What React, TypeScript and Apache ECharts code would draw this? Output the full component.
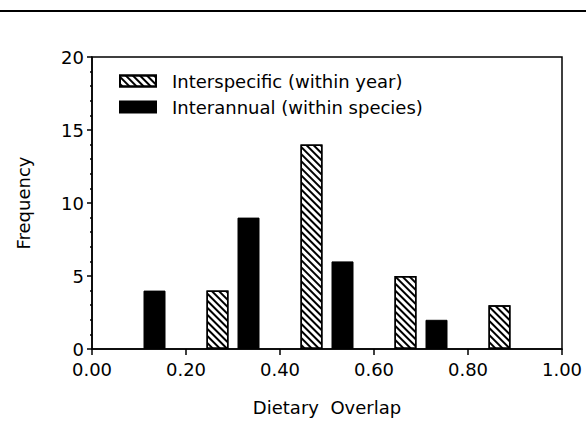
import React, { useEffect, useRef } from "react";
import * as echarts from "echarts";

const seriesNames = ["Interspecific (within year)", "Interannual (within species)"];
const interspecific: [number, number][] = [
  [0.267, 4],
  [0.467, 14],
  [0.667, 5],
  [0.867, 3],
];
const interannual: [number, number][] = [
  [0.133, 4],
  [0.333, 9],
  [0.533, 6],
  [0.733, 2],
];
const xTicks = [0, 0.2, 0.4, 0.6, 0.8, 1.0];
const yTicks = [0, 5, 10, 15, 20];

export default function App() {
  const ref = useRef<HTMLDivElement>(null);
  useEffect(() => {
    if (!ref.current) return;
    const chart = echarts.init(ref.current, null, { renderer: "svg" });
    const font = "DejaVu Sans";
    const fs = 18;
    chart.setOption({
      animation: false,
      backgroundColor: "#fff",
      textStyle: { fontFamily: font, color: "#000" },
      grid: {
        left: 92,
        right: 24,
        top: 57,
        bottom: 75,
        show: true,
        borderColor: "#000",
        borderWidth: 1.5,
      },
      legend: {
        orient: "vertical",
        left: 114,
        top: 67,
        itemWidth: 36,
        itemHeight: 11,
        itemGap: 8,
        icon: "rect",
        textStyle: { fontFamily: font, fontSize: fs, color: "#000", padding: [0, 0, 0, 11] },
        data: seriesNames,
      },
      xAxis: {
        type: "value",
        min: xTicks[0],
        max: xTicks[xTicks.length - 1],
        interval: 0.2,
        name: "Dietary  Overlap",
        nameLocation: "middle",
        nameGap: 49,
        nameTextStyle: { fontFamily: font, fontSize: fs, color: "#000" },
        axisLine: { lineStyle: { color: "#000", width: 1.5 } },
        axisTick: { show: true, length: 6, lineStyle: { color: "#000", width: 1.5 } },
        axisLabel: {
          fontFamily: font,
          fontSize: fs,
          color: "#000",
          margin: 11,
          formatter: (v: number) => v.toFixed(2),
        },
        splitLine: { show: false },
      },
      yAxis: {
        type: "value",
        min: yTicks[0],
        max: yTicks[yTicks.length - 1],
        interval: 5,
        name: "Frequency",
        nameLocation: "middle",
        nameGap: 60,
        nameTextStyle: { fontFamily: font, fontSize: fs, color: "#000" },
        axisLine: { show: true, lineStyle: { color: "#000", width: 1.5 } },
        axisTick: { show: true, length: 5, lineStyle: { color: "#000", width: 1.5 } },
        minorTick: { show: true, splitNumber: 5, length: 2, lineStyle: { color: "#000", width: 1.5 } },
        axisLabel: { fontFamily: font, fontSize: fs, color: "#000", margin: 8 },
        splitLine: { show: false },
      },
      graphic: [
        {
          type: "line",
          shape: { x1: 0, y1: 11, x2: 586, y2: 11 },
          style: { stroke: "#000", lineWidth: 2 },
        },
      ],
      series: [
        {
          name: seriesNames[0],
          type: "bar",
          data: interspecific,
          barWidth: 22,
          barGap: "-100%",
          itemStyle: {
            color: "#fff",
            borderColor: "#000",
            borderWidth: 1.5,
            decal: {
              symbol: "rect",
              symbolSize: 1,
              dashArrayX: [1, 0],
              dashArrayY: [2, 2.6],
              rotation: Math.PI / 4,
              color: "#000",
            },
          },
        },
        {
          name: seriesNames[1],
          type: "bar",
          data: interannual,
          barWidth: 22,
          barGap: "-100%",
          itemStyle: { color: "#000", borderColor: "#000", borderWidth: 1 },
        },
      ],
    });
    return () => chart.dispose();
  }, []);
  return <div ref={ref} style={{ width: 586, height: 424, position: "absolute", left: 0, top: 0 }} />;
}
